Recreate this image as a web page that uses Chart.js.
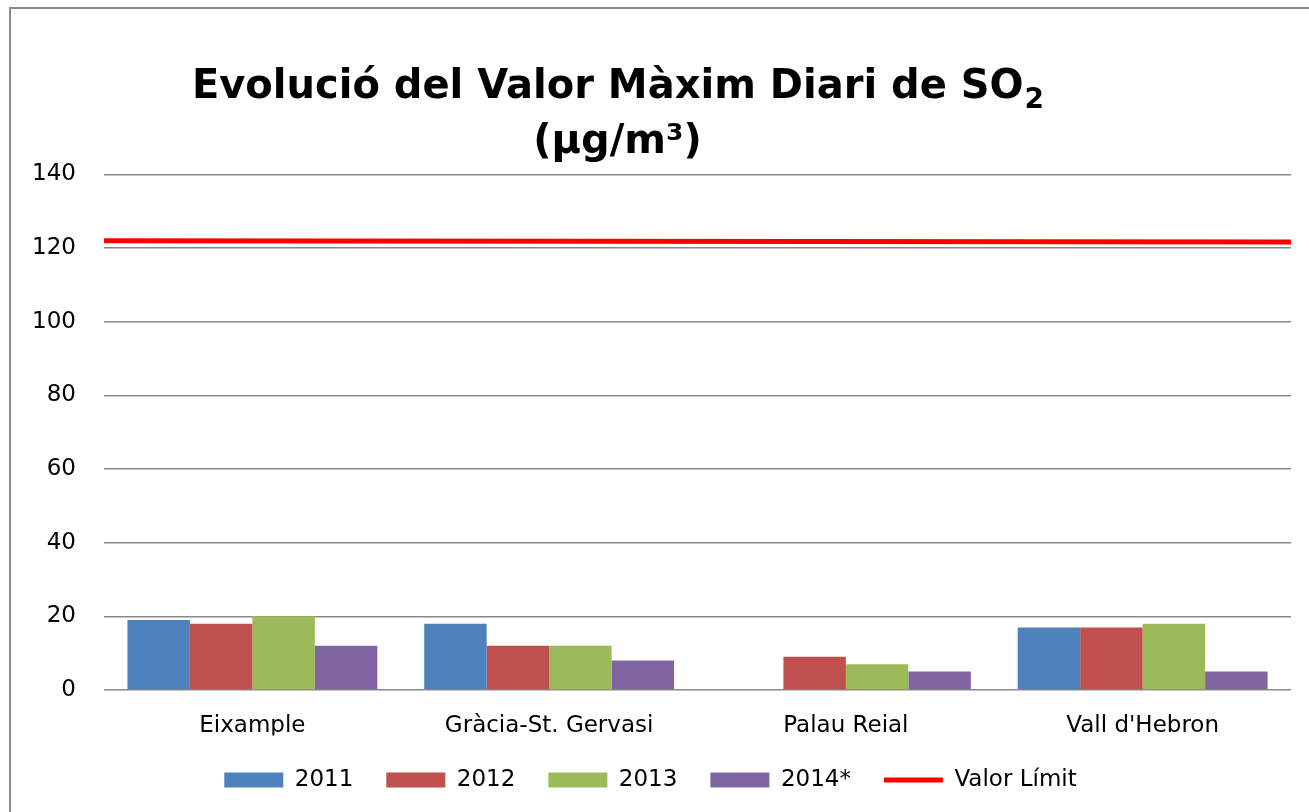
<!DOCTYPE html>
<html><head><meta charset="utf-8">
<script src="https://cdn.jsdelivr.net/npm/chart.js@4.4.1/dist/chart.umd.min.js"></script>
<style>
html,body{margin:0;padding:0;background:#fff;overflow:hidden}
#wrap{position:relative;width:1309px;height:812px;overflow:hidden}
#c{position:absolute;left:0;top:0}
#frame{position:absolute;left:9px;top:7px;width:1400px;height:900px;border-left:2px solid #8c8c8c;border-top:2px solid #8c8c8c;pointer-events:none}
</style></head><body>
<div id="wrap"><canvas id="c" width="1309" height="812"></canvas><div id="frame"></div></div>
<script>
const categories = ['Eixample', 'Gràcia-St. Gervasi', 'Palau Reial', "Vall d'Hebron"];
const seriesNames = ['2011', '2012', '2013', '2014*'];
const values2011 = [19, 18, null, 17];
const values2012 = [18, 12, 9, 17];
const values2013 = [20, 12, 7, 18];
const values2014 = [12, 8, 5, 5];
const limitName = 'Valor Límit';
const limitValues = [122, 121.7];   // left edge, right edge of the plot
const yTicks = [0, 20, 40, 60, 80, 100, 120, 140];
const titleLine1 = 'Evolució del Valor Màxim Diari de SO';
const titleSub = '2';
const titleLine2 = '(µg/m³)';

const colors = ['#4F81BD', '#C0504D', '#9BBB59', '#8064A2'];
const FONT = '"DejaVu Sans", sans-serif';

const titlePlugin = {
  id: 'twoLineTitle',
  afterDraw(chart) {
    const ctx = chart.ctx;
    ctx.save();
    ctx.fillStyle = '#000';
    ctx.textBaseline = 'alphabetic';
    const big = 'bold 40px ' + FONT;
    const small = 'bold 28px ' + FONT;
    ctx.font = big;
    const w1 = ctx.measureText(titleLine1).width;
    ctx.font = small;
    const w2 = ctx.measureText(titleSub).width;
    const cx = 617.5;
    const x = cx - (w1 + w2) / 2;
    ctx.textAlign = 'left';
    ctx.font = big;
    ctx.fillText(titleLine1, x, 98);
    ctx.font = small;
    ctx.fillText(titleSub, x + w1 + 1, 108);
    ctx.font = big;
    ctx.textAlign = 'center';
    ctx.fillText(titleLine2, cx, 153);
    ctx.restore();
  }
};

const seriesValues = [values2011, values2012, values2013, values2014];
const datasets = seriesValues.map((vals, i) => ({
  type: 'bar',
  label: seriesNames[i],
  data: vals,
  backgroundColor: colors[i],
  borderWidth: 0,
  categoryPercentage: 0.842,
  barPercentage: 1.0
}));
// limit line spans the whole category axis: from its left edge (-0.5) to its right edge (n - 0.5)
const edgeX = [-0.5, categories.length - 0.5];
datasets.push({
  type: 'line',
  label: limitName,
  parsing: false,
  data: limitValues.map((v, i) => ({ x: edgeX[i], y: v })),
  borderColor: '#FF0000',
  backgroundColor: '#FF0000',
  borderWidth: 5,
  pointRadius: 0,
  fill: false,
  clip: false
});

new Chart(document.getElementById('c'), {
  type: 'bar',
  data: { labels: categories, datasets },
  plugins: [titlePlugin],
  options: {
    responsive: false,
    animation: false,
    devicePixelRatio: 1,
    layout: { padding: { left: 10, right: 18, top: 174.5, bottom: 10.5 } },
    plugins: {
      title: { display: false },
      tooltip: { enabled: false },
      legend: {
        position: 'bottom',
        labels: {
          font: { family: FONT, size: 23 },
          color: '#000',
          usePointStyle: true,
          pointStyleWidth: 59,
          boxHeight: 15,
          padding: 33,
          generateLabels(chart) {
            return chart.data.datasets.map((d, i) => ({
              text: d.label,
              fillStyle: d.backgroundColor,
              strokeStyle: d.borderColor || d.backgroundColor,
              lineWidth: d.type === 'line' ? 5 : 0,
              pointStyle: d.type === 'line' ? 'line' : 'rect',
              hidden: false,
              datasetIndex: i,
              fontColor: '#000'
            }));
          }
        }
      }
    },
    scales: {
      x: {
        type: 'category',
        grid: { display: false },
        border: { display: false },
        ticks: { font: { family: FONT, size: 23 }, color: '#000', padding: 14 },
        afterFit(s) { s.height = 45.5; }
      },
      y: {
        min: 0, max: 140,
        afterBuildTicks(s) { s.ticks = yTicks.map(v => ({ value: v })); },
        ticks: { font: { family: FONT, size: 23 }, color: '#000', padding: 28 },
        grid: { color: '#888', lineWidth: 1.5, drawTicks: false },
        border: { display: false },
        afterFit(s) { s.width = 94; }
      }
    }
  }
});
</script>
</body></html>
